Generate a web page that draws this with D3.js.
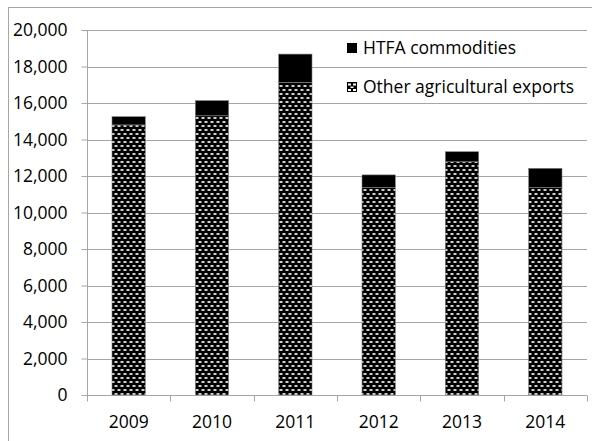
<!DOCTYPE html>
<html><head><meta charset="utf-8">
<script src="https://cdn.jsdelivr.net/npm/d3@7/dist/d3.min.js"></script>
<style>body{margin:0;background:#fff}svg{display:block}</style>
</head><body>
<script>
const years = ["2009","2010","2011","2012","2013","2014"];
const otherExports = [14800, 15300, 17130, 11380, 12780, 11380];
const htfa = [450, 830, 1550, 680, 550, 1040];
const yTicks = [0,2000,4000,6000,8000,10000,12000,14000,16000,18000,20000];
const seriesNames = ["HTFA commodities","Other agricultural exports"];

(function(){
const W=592,H=441;
const svg=d3.select("body").append("svg").attr("width",W).attr("height",H);
const defs=svg.append("defs");
const pat=defs.append("pattern").attr("id","chk").attr("patternUnits","userSpaceOnUse").attr("width",6).attr("height",8);
pat.append("rect").attr("width",6).attr("height",8).attr("fill","#000");
pat.append("rect").attr("x",0.5).attr("y",1).attr("width",3).attr("height",2).attr("fill","#cfcfcf");
pat.append("rect").attr("x",3.5).attr("y",5).attr("width",3).attr("height",2).attr("fill","#cfcfcf");
pat.append("rect").attr("x",-2.5).attr("y",5).attr("width",3).attr("height",2).attr("fill","#cfcfcf");
const lp=defs.append("pattern").attr("id","legchk").attr("patternUnits","userSpaceOnUse").attr("x",347).attr("y",82).attr("width",10).attr("height",10);
lp.append("rect").attr("width",10).attr("height",10).attr("fill","#000");
lp.append("rect").attr("x",1).attr("y",1.5).attr("width",3).attr("height",2).attr("fill","#fff");
lp.append("rect").attr("x",6).attr("y",1.5).attr("width",3).attr("height",2).attr("fill","#fff");
lp.append("rect").attr("x",3.5).attr("y",4.5).attr("width",3).attr("height",1.5).attr("fill","#fff");
lp.append("rect").attr("x",1).attr("y",7).attr("width",3).attr("height",2).attr("fill","#fff");
lp.append("rect").attr("x",6).attr("y",7).attr("width",3).attr("height",2).attr("fill","#fff");

svg.append("rect").attr("x",8.5).attr("y",7.5).attr("width",W).attr("height",H).attr("fill","none").attr("stroke","#a6a6a6");

const pL=87,pR=587,pT=30,pB=395;
const x=d3.scaleBand().domain(years).range([pL,pR]).paddingInner(0.6).paddingOuter(0.3);
const y=d3.scaleLinear().domain([0,20000]).range([pB,pT]);
const font="'Open Sans', sans-serif";
const fs=17.5;

svg.append("g").selectAll("line").data(yTicks.slice(1)).join("line")
  .attr("x1",pL).attr("x2",pR).attr("y1",d=>Math.round(y(d))+0.5).attr("y2",d=>Math.round(y(d))+0.5)
  .attr("stroke","#a6a6a6").attr("stroke-width",1.2);

const ya=svg.append("g").attr("transform",`translate(${pL+0.5},0)`)
  .call(d3.axisLeft(y).tickValues(yTicks).tickSize(6).tickSizeOuter(0).tickFormat(d3.format(",")));
ya.select(".domain").attr("stroke","#a6a6a6").attr("d",`M0,${pT}V${pB}`);
ya.selectAll(".tick line").attr("stroke","#a6a6a6");
ya.selectAll("text").attr("font-family",font).attr("font-size",fs).attr("fill","#000").attr("x",-20);

const xOuter=d3.scaleLinear().domain([0,years.length]).range([pL,pR]);
const xa=svg.append("g").attr("transform",`translate(0,${pB+0.5})`)
  .call(d3.axisBottom(x).tickSize(0).tickSizeOuter(0));
xa.select(".domain").attr("stroke","#a6a6a6").attr("d",`M${pL},0H${pR}`);
xa.selectAll("text").attr("font-family",font).attr("font-size",fs).attr("fill","#000").attr("y",32.5).attr("dy",null);
xa.append("g").selectAll("line").data(d3.range(years.length+1)).join("line")
  .attr("x1",d=>Math.round(xOuter(d))+0.5).attr("x2",d=>Math.round(xOuter(d))+0.5).attr("y1",0).attr("y2",6).attr("stroke","#a6a6a6");

const g=svg.append("g");
g.selectAll(".o").data(years).join("rect").attr("class","o")
  .attr("x",d=>x(d)).attr("width",x.bandwidth())
  .attr("y",(d,i)=>y(otherExports[i])).attr("height",(d,i)=>y(0)-y(otherExports[i]))
  .attr("fill","url(#chk)").attr("stroke","#7f7f7f").attr("stroke-width",0.6);
g.selectAll(".h").data(years).join("rect").attr("class","h")
  .attr("x",d=>x(d)).attr("width",x.bandwidth())
  .attr("y",(d,i)=>y(otherExports[i]+htfa[i])).attr("height",(d,i)=>y(otherExports[i])-y(otherExports[i]+htfa[i]))
  .attr("fill","#000").attr("stroke","#7f7f7f").attr("stroke-width",0.6);

const leg=svg.append("g");
const lf=["#000","url(#legchk)"];
seriesNames.forEach((n,i)=>{
  const ly=43+i*39;
  leg.append("rect").attr("x",347).attr("y",ly).attr("width",10).attr("height",10).attr("fill",lf[i]);
  leg.append("text").attr("x",363).attr("y",ly+5).attr("dy","0.35em").attr("font-family",font).attr("font-size",fs).text(n);
});
})();
</script>
</body></html>
